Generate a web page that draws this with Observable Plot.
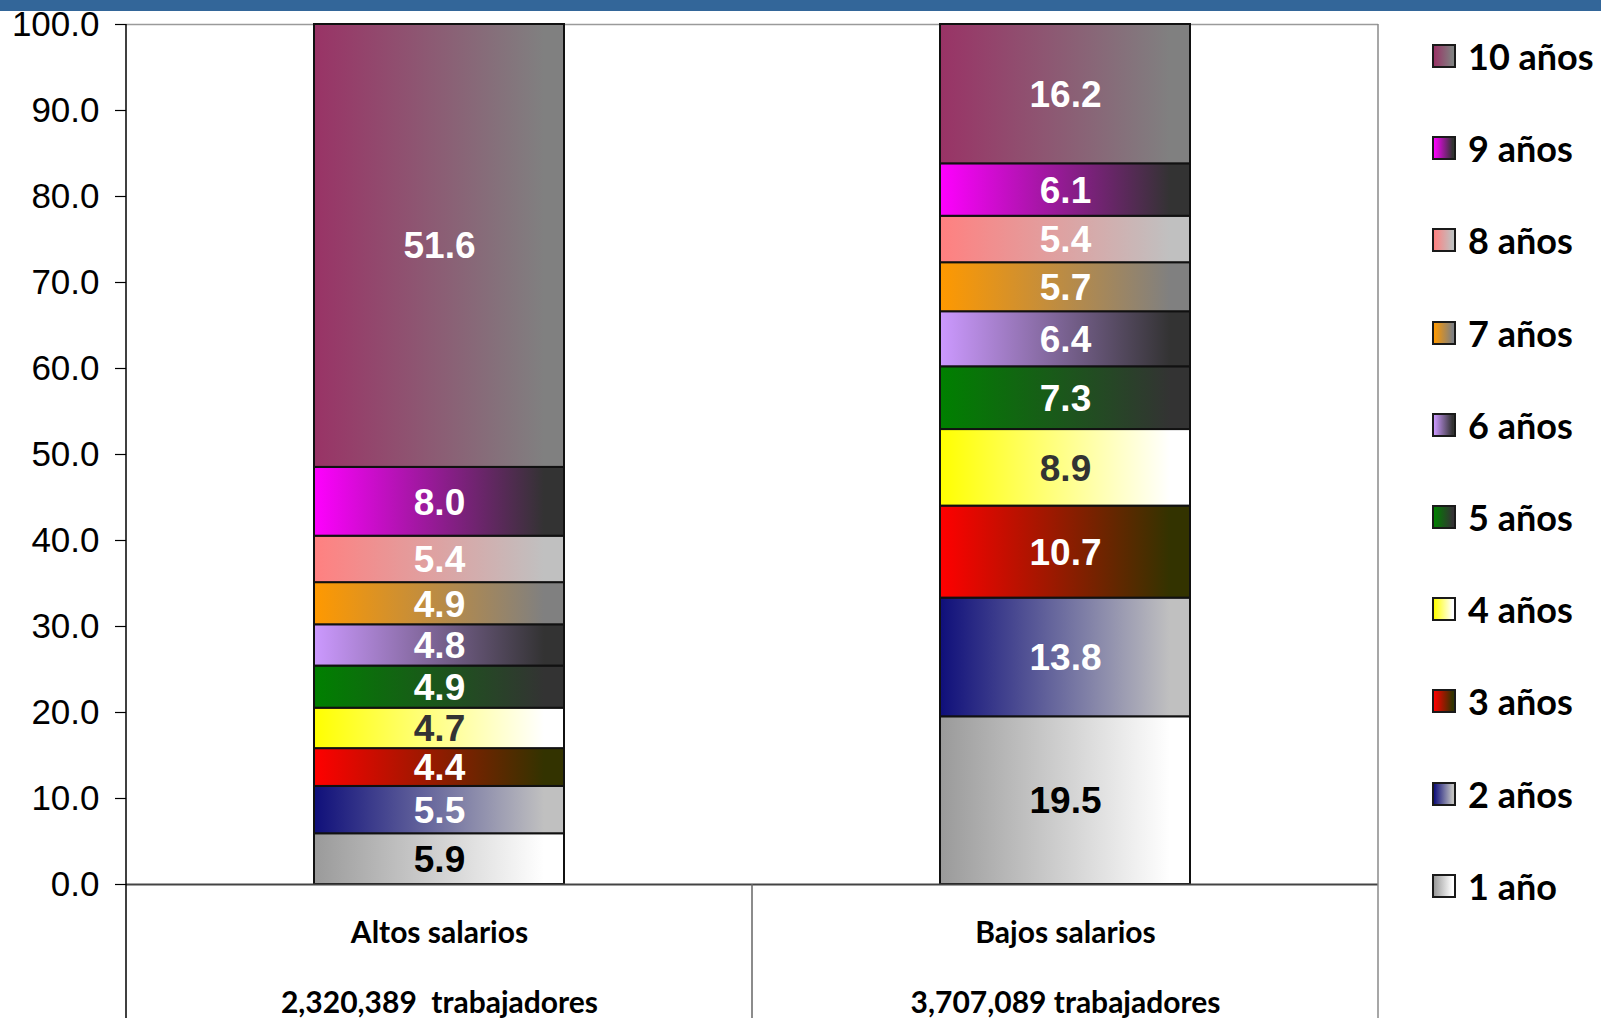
<!DOCTYPE html>
<html><head><meta charset="utf-8">
<script src="https://cdn.jsdelivr.net/npm/d3@7"></script>
<script src="https://cdn.jsdelivr.net/npm/@observablehq/plot@0.6"></script>
<style>
html,body{margin:0;padding:0;background:#fff;}
#wrap{position:relative;width:1601px;height:1018px;overflow:hidden;}
#chart{position:absolute;left:0;top:0;}
#topbar{position:absolute;left:0;top:0;width:1601px;height:11px;background:#336699;}
#legend{position:absolute;left:0;top:0;}
.item{position:absolute;display:flex;align-items:center;white-space:nowrap;font-family:Lato,"Open Sans",sans-serif;font-weight:bold;font-size:36px;color:#000;line-height:1;}
.sw{width:20px;height:20px;border:2px solid #1a1a1a;margin-right:12px;flex:none;}
</style></head><body>
<div id="wrap"><div id="chart"></div><div id="topbar"></div><div id="legend"></div></div>
<script>
// ---- data ----
const groups = ["Altos salarios", "Bajos salarios"];
const workers = ["2,320,389  trabajadores", "3,707,089 trabajadores"];
const categories = ["1 año", "2 años", "3 años", "4 años", "5 años", "6 años", "7 años", "8 años", "9 años", "10 años"];
const altos = [5.9, 5.5, 4.4, 4.7, 4.9, 4.8, 4.9, 5.4, 8.0, 51.6];
const bajos = [19.5, 13.8, 10.7, 8.9, 7.3, 6.4, 5.7, 5.4, 6.1, 16.2];
const yTicks = [0, 10, 20, 30, 40, 50, 60, 70, 80, 90, 100];
// gradient end colours per category (left -> right)
const gradFrom = ["#9a9a9a", "#0f0f7a", "#ff0000", "#ffff00", "#008000", "#cc99ff", "#ff9900", "#ff8080", "#ff00ff", "#993366"];
const gradTo   = ["#ffffff", "#c0c0c0", "#333300", "#ffffff", "#333333", "#333333", "#808080", "#c0c0c0", "#333333", "#808080"];
const labelColors = ["#000000", "#ffffff", "#ffffff", "#333333", "#ffffff", "#ffffff", "#ffffff", "#ffffff", "#ffffff", "#ffffff"];

// ---- table ----
const rows = [];
[altos, bajos].forEach((vals, gi) => {
  let acc = 0;
  vals.forEach((v, i) => {
    rows.push({group: groups[gi], cat: categories[i], value: v, y1: acc, y2: Math.min(100, acc + v), ym: acc + v / 2, color: labelColors[i]});
    acc += v;
  });
});
const catLines = groups.map((g, i) => ({group: g, text: g, workers: workers[i]}));

const W = 1601, H = 1018;
const plot = Plot.plot({
  width: W, height: H,
  marginTop: 24, marginBottom: 134, marginLeft: 126, marginRight: 223,
  style: {background: "transparent", overflow: "visible"},
  x: {domain: groups, axis: null, paddingInner: 0.6, paddingOuter: 0.3},
  y: {domain: [0, 100], axis: null},
  color: {domain: categories, range: categories.map((c, i) => `url(#grad${i})`)},
  marks: [
    Plot.ruleY([100], {stroke: "#9a9a9a", strokeWidth: 1.5}),
    Plot.axisY({ticks: yTicks, tickFormat: d => d.toFixed(1), tickSize: 11, tickPadding: 16,
      fontSize: 35, fontFamily: "'Liberation Sans', Arial, sans-serif", fill: "#000", stroke: "#000", strokeWidth: 1.2}),
    Plot.barY(rows, {x: "group", y1: "y1", y2: "y2", fill: "cat", stroke: "#111", strokeWidth: 2}),
    Plot.ruleY([0], {stroke: "#444", strokeWidth: 2}),
    Plot.text(rows, {x: "group", y: "ym", text: d => d.value.toFixed(1), fill: "color",
      fontSize: 37, fontWeight: "bold", fontFamily: "'Liberation Sans', Arial, sans-serif", dy: 1}),
    Plot.text(catLines, {x: "group", text: "text", frameAnchor: "bottom", dy: 58,
      fontSize: 30, fontWeight: "bold", fontFamily: "Lato, sans-serif", fill: "#000"}),
    Plot.text(catLines, {x: "group", text: "workers", frameAnchor: "bottom", dy: 128,
      fontSize: 30, fontWeight: "bold", fontFamily: "Lato, sans-serif", fill: "#000"})
  ]
});

// gradients
const svg = d3.select(plot);
const defs = svg.insert("defs", ":first-child");
categories.forEach((c, i) => {
  const g = defs.append("linearGradient").attr("id", `grad${i}`).attr("x1", "0").attr("x2", "1").attr("y1", "0").attr("y2", "0");
  g.append("stop").attr("offset", "0").attr("stop-color", gradFrom[i]);
  g.append("stop").attr("offset", "0.92").attr("stop-color", gradTo[i]);
});

// frame lines derived from scales
const xs = plot.scale("x"), ys = plot.scale("y");
const bw = xs.bandwidth;
const x0 = 126, x1 = W - 223;
const mid = (xs.apply(groups[0]) + xs.apply(groups[1]) + bw) / 2;
const yTop = ys.apply(100), yBot = ys.apply(0);
const lines = svg.append("g");
lines.append("line").attr("x1", x1).attr("x2", x1).attr("y1", yTop).attr("y2", H).attr("stroke", "#8a8a8a").attr("stroke-width", 1.5);
lines.append("line").attr("x1", mid).attr("x2", mid).attr("y1", yBot).attr("y2", H).attr("stroke", "#666").attr("stroke-width", 1.5);
lines.append("line").attr("x1", x0).attr("x2", x0).attr("y1", yTop).attr("y2", H).attr("stroke", "#000").attr("stroke-width", 1.5);

document.getElementById("chart").appendChild(plot);

// legend (top = 10 años)
const legend = document.getElementById("legend");
const order = categories.map((c, i) => i).reverse();
order.forEach((i, k) => {
  const item = document.createElement("div");
  item.className = "item";
  item.style.left = "1432px";
  item.style.top = (56 + k * 92.2 - 18) + "px";
  item.style.height = "36px";
  const sw = document.createElement("div");
  sw.className = "sw";
  sw.style.background = `linear-gradient(to right, ${gradFrom[i]}, ${gradTo[i]} 92%)`;
  item.appendChild(sw);
  const t = document.createElement("span");
  t.textContent = categories[i];
  item.appendChild(t);
  legend.appendChild(item);
});
</script>
</body></html>
